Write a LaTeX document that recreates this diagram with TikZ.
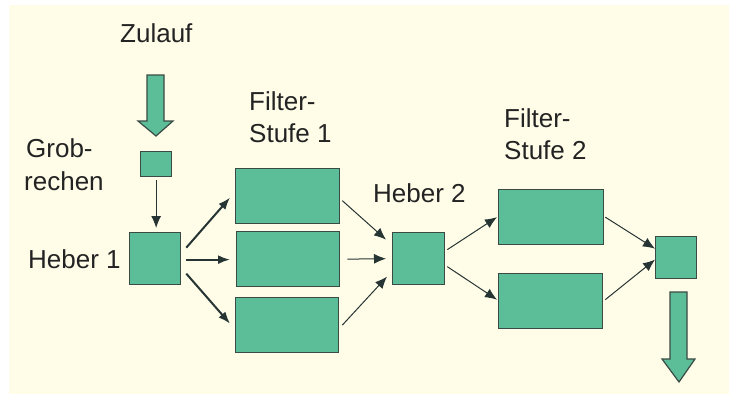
\documentclass[tikz,border=0pt]{standalone}
\usepackage{fontspec}
\setmainfont{Liberation Sans}
\usetikzlibrary{arrows.meta,calc}
\definecolor{bg}{RGB}{255,253,232}
\definecolor{boxfill}{RGB}{92,190,152}
\definecolor{boxline}{RGB}{58,74,68}
\definecolor{arr}{RGB}{38,52,52}
\definecolor{txt}{RGB}{35,35,35}
\begin{document}
\begin{tikzpicture}[x=1pt,y=-1pt,
  box/.style={draw=boxline,line width=1.3pt,fill=boxfill,inner sep=0pt,anchor=north west},
  lbl/.style={font=\fontsize{26}{32}\selectfont,text=txt,inner sep=0pt,anchor=base west,align=left},
  thin/.style={draw=arr,line width=1pt,-{Latex[length=12pt,width=10pt]}},
  thick/.style={draw=arr,line width=2pt,-{Latex[length=12pt,width=9pt]}},
  block/.style={draw=boxline,line width=1.2pt,fill=boxfill,line join=miter}]
\useasboundingbox (0,0) rectangle (729,394);
\fill[white] (0,0) rectangle (729,394);
\fill[bg] (9,5) rectangle (729,394);
% labels
\node[lbl] (tz) at (120,42) {Zulauf};
\node[lbl] (tg1) at (26,157) {Grob-};
\node[lbl] (tg2) at (24,190) {rechen};
\node[lbl] (tf1a) at (249,110) {Filter-};
\node[lbl] (tf1b) at (249,142) {Stufe 1};
\node[lbl] (th1) at (28,268) {Heber 1};
\node[lbl] (th2) at (373,202) {Heber 2};
\node[lbl] (tf2a) at (504,127) {Filter-};
\node[lbl] (tf2b) at (504,159) {Stufe 2};
% boxes
\node[box,minimum width=31pt,minimum height=25pt] (gr) at (140,151) {};
\node[box,minimum width=51pt,minimum height=52pt] (h1) at (129,232) {};
\node[box,minimum width=104pt,minimum height=55pt] (f1a) at (235,168) {};
\node[box,minimum width=103pt,minimum height=55pt] (f1b) at (236,231) {};
\node[box,minimum width=103pt,minimum height=55pt] (f1c) at (235,297) {};
\node[box,minimum width=52pt,minimum height=52pt] (h2) at (392,232) {};
\node[box,minimum width=105pt,minimum height=55pt] (f2a) at (498,189) {};
\node[box,minimum width=104pt,minimum height=55pt] (f2b) at (498,273) {};
\node[box,minimum width=41pt,minimum height=42pt] (out) at (655,236) {};
% block arrows
\path[block] (147,75) -- (164,75) -- (164,121) -- (173,121) -- (156,136) -- (138,121) -- (147,121) -- cycle;
\path[block] (670,292) -- (687,292) -- (687,359) -- (695,359) -- (679,382) -- (662,359) -- (670,359) -- cycle;
% connectors
\draw[thin] ($(gr.south)+(0,3)$) -- ($(h1.north)+(1,-4)$);
\draw[thick] ($(h1.east)+(5,-11)$) -- ($(f1a.west)+(-5,1.5)$);
\draw[thick] ($(h1.east)+(5,1)$) -- ($(f1b.west)+(-6,0.5)$);
\draw[thick] ($(h1.east)+(5,15)$) -- ($(f1c.west)+(-5,-1.5)$);
\draw[thin] ($(f1a.east)+(2,4.5)$) -- ($(h2.west)+(-6,-19)$);
\draw[thin] ($(f1b.east)+(7,0)$) -- ($(h2.west)+(-6,0)$);
\draw[thin] ($(f1c.east)+(3,0)$) -- ($(h2.west)+(-5,18)$);
\draw[thin] ($(h2.east)+(2,-9)$) -- ($(f2a.west)+(-1,0)$);
\draw[thin] ($(h2.east)+(2,8)$) -- ($(f2b.west)+(-1,-1.5)$);
\draw[thin] ($(f2a.east)+(1,0)$) -- ($(out.west)+(0,-9)$);
\draw[thin] ($(f2b.east)+(2,-1.5)$) -- ($(out.west)+(0,2)$);
\end{tikzpicture}
\end{document}
